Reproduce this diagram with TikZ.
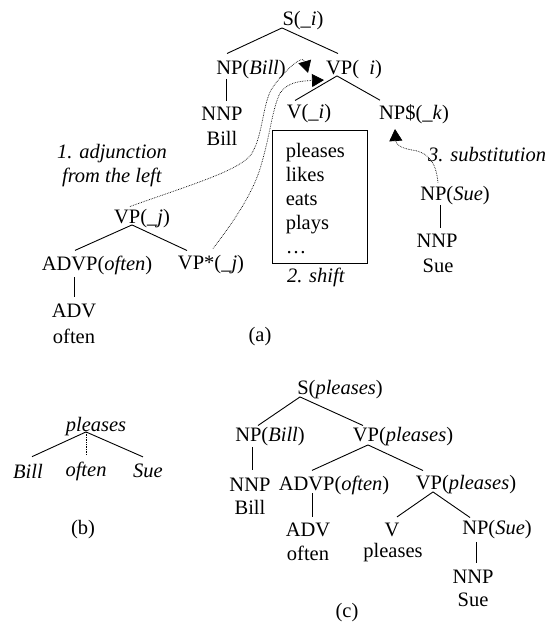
\documentclass[tikz,border=0pt]{standalone}
\usepackage{fontspec}
\setmainfont{Liberation Serif}
\usetikzlibrary{arrows.meta}

\begin{document}
\begin{tikzpicture}[x=1pt,y=-1pt,
    every node/.style={inner sep=0pt,font=\fontsize{20.5}{24}\selectfont},
    branch/.style={line width=0.9pt},
    link/.style={densely dotted,line width=0.7pt},
    move/.style={link,-{Triangle[length=12pt,width=13pt]}}]
  \useasboundingbox (0,0) rectangle (546,623);
  % (a) initial tree
  \node (s) at (303,21) {S(\_\textit{i})};
  \node (np1) at (251,70) {NP(\textit{Bill})};
  \node (vp1) at (354,70) {VP(\phantom{\_}\textit{i})};
  \node (nnp1) at (222,114) {NNP};
  \node (bill1) at (222,138) {Bill};
  \node (v1) at (309,114) {V(\_\textit{i})};
  \node (nps) at (414,114) {NP\$(\_\textit{k})};
  \draw[branch] ([xshift=-21pt,yshift=-2pt]s.base) -- ([xshift=-24pt,yshift=7pt]np1.north);
  \draw[branch] ([xshift=-21pt,yshift=-2pt]s.base) -- ([xshift=-16pt,yshift=7pt]vp1.north);
  \draw[branch] ([xshift=-25pt,yshift=-4pt]np1.base) -- ([xshift=4pt,yshift=6pt]nnp1.north);
  \draw[branch] ([xshift=-17pt,yshift=-1pt]vp1.base) -- ([xshift=-14pt,yshift=4pt]v1.north);
  \draw[branch] ([xshift=-17pt,yshift=-1pt]vp1.base) -- ([xshift=-34pt,yshift=4pt]nps.north);
  % verbs that can shift in
  \node[draw,line width=0.9pt,minimum width=95pt,minimum height=133pt] (verbs) at (319.5,196.5) {};
  \node[anchor=north west,align=left] (verblist) at ([xshift=14pt,yshift=-14pt]verbs.north west) {pleases\\likes\\eats\\plays\\…};
  \node (shift) at (316,277) {\textit{2. shift}};
  % substitution
  \node (np2) at (455,196) {NP(\textit{Sue})};
  \node (nnp2) at (437,241) {NNP};
  \node (sue2) at (438,266) {Sue};
  \draw[branch] ([xshift=-15pt,yshift=-4pt]np2.base) -- ([xshift=3pt,yshift=6pt]nnp2.north);
  \node[anchor=west] (subst) at (428,155) {\textit{3. substitution}};
  \coordinate (substtip) at (395,129);
  \draw[move] ([xshift=-17pt,yshift=4pt]np2.north) .. controls (436,162) and (428,152) .. (412,150)
    .. controls (400,148) and (396,144) .. (substtip);
  % auxiliary tree
  \node (vpj) at (142,219) {VP(\_\textit{j})};
  \node (advp) at (97,265) {ADVP(\textit{often})};
  \node (vpfoot) at (211,265) {VP*(\_\textit{j})};
  \node (adv) at (74,311) {ADV};
  \node (often1) at (74,336) {often};
  \draw[branch] ([xshift=-10pt,yshift=-1pt]vpj.base) -- ([xshift=-22pt,yshift=5pt]advp.north);
  \draw[branch] ([xshift=-10pt,yshift=-1pt]vpj.base) -- ([xshift=-24pt,yshift=5pt]vpfoot.north);
  \draw[branch] ([xshift=-23pt,yshift=-7pt]advp.base) -- ([yshift=7pt]adv.north);
  \node[align=center] (adjoin) at (112,166) {\textit{1. adjunction}\\\textit{from the left}};
  \coordinate (adjtip) at (308,73);
  \coordinate (foottip) at (324,80);
  \draw[move] ([xshift=-12pt,yshift=3pt]vpj.north) .. controls (190,185) and (235,172) .. (250,156)
    .. controls (262,140) and (262,110) .. (270,92) .. controls (276,80) and (302,52) .. (adjtip);
  \draw[move] ([xshift=2pt,yshift=7pt]vpfoot.north) .. controls (235,220) and (255,190) .. (262,162)
    .. controls (270,135) and (272,110) .. (280,93) .. controls (288,82) and (300,81) .. (foottip);
  \node (capa) at (260,337) {(a)};
  % (b) dependency tree
  \node (headb) at (96,427) {\textit{pleases}};
  \node (billb) at (28,471) {\textit{Bill}};
  \node (oftenb) at (86,471) {\textit{often}};
  \node (sueb) at (148,471) {\textit{Sue}};
  \draw[branch] ([xshift=-10pt]headb.base) -- ([xshift=4pt,yshift=7pt]billb.north);
  \draw[branch] ([xshift=-10pt]headb.base) -- ([xshift=-5pt,yshift=7pt]sueb.north);
  \draw[link] ([xshift=-10pt]headb.base) -- ([yshift=7pt]oftenb.north);
  \node (capb) at (83,530) {(b)};
  % (c) derived tree
  \node (s2) at (340,390) {S(\textit{pleases})};
  \node (np3) at (270,437) {NP(\textit{Bill})};
  \node (vp3) at (403,437) {VP(\textit{pleases})};
  \node (nnp3) at (250,485) {NNP};
  \node (bill3) at (250,507) {Bill};
  \node (advp3) at (334,485) {ADVP(\textit{often})};
  \node (vp4) at (466,485) {VP(\textit{pleases})};
  \node (adv3) at (308,530) {ADV};
  \node (often3) at (308,553) {often};
  \node (v3) at (392,530) {V};
  \node (pleases3) at (393,553) {pleases};
  \node (np4) at (497,530) {NP(\textit{Sue})};
  \node (nnp4) at (473,577) {NNP};
  \node (sue4) at (473,600) {Sue};
  \draw[branch] ([xshift=-40pt,yshift=-2pt]s2.base) -- ([xshift=-12pt,yshift=2pt]np3.north);
  \draw[branch] ([xshift=-40pt,yshift=-2pt]s2.base) -- ([xshift=-40pt,yshift=2pt]vp3.north);
  \draw[branch] ([xshift=-18pt,yshift=-5pt]np3.base) -- ([xshift=2pt,yshift=8pt]nnp3.north);
  \draw[branch] ([xshift=-35pt,yshift=-3pt]vp3.base) -- ([xshift=-22pt,yshift=5pt]advp3.north);
  \draw[branch] ([xshift=-35pt,yshift=-3pt]vp3.base) -- ([xshift=-43pt,yshift=5pt]vp4.north);
  \draw[branch] ([xshift=-22pt,yshift=-3pt]advp3.base) -- ([xshift=4pt,yshift=6pt]adv3.north);
  \draw[branch] ([xshift=-33pt,yshift=-2pt]vp4.base) -- ([xshift=5pt,yshift=6pt]v3.north);
  \draw[branch] ([xshift=-33pt,yshift=-2pt]vp4.base) -- ([xshift=-27pt,yshift=3pt]np4.north);
  \draw[branch] ([xshift=-21pt,yshift=-7pt]np4.base) -- ([xshift=3pt,yshift=7pt]nnp4.north);
  \node (capc) at (347,613) {(c)};
\end{tikzpicture}
\end{document}
